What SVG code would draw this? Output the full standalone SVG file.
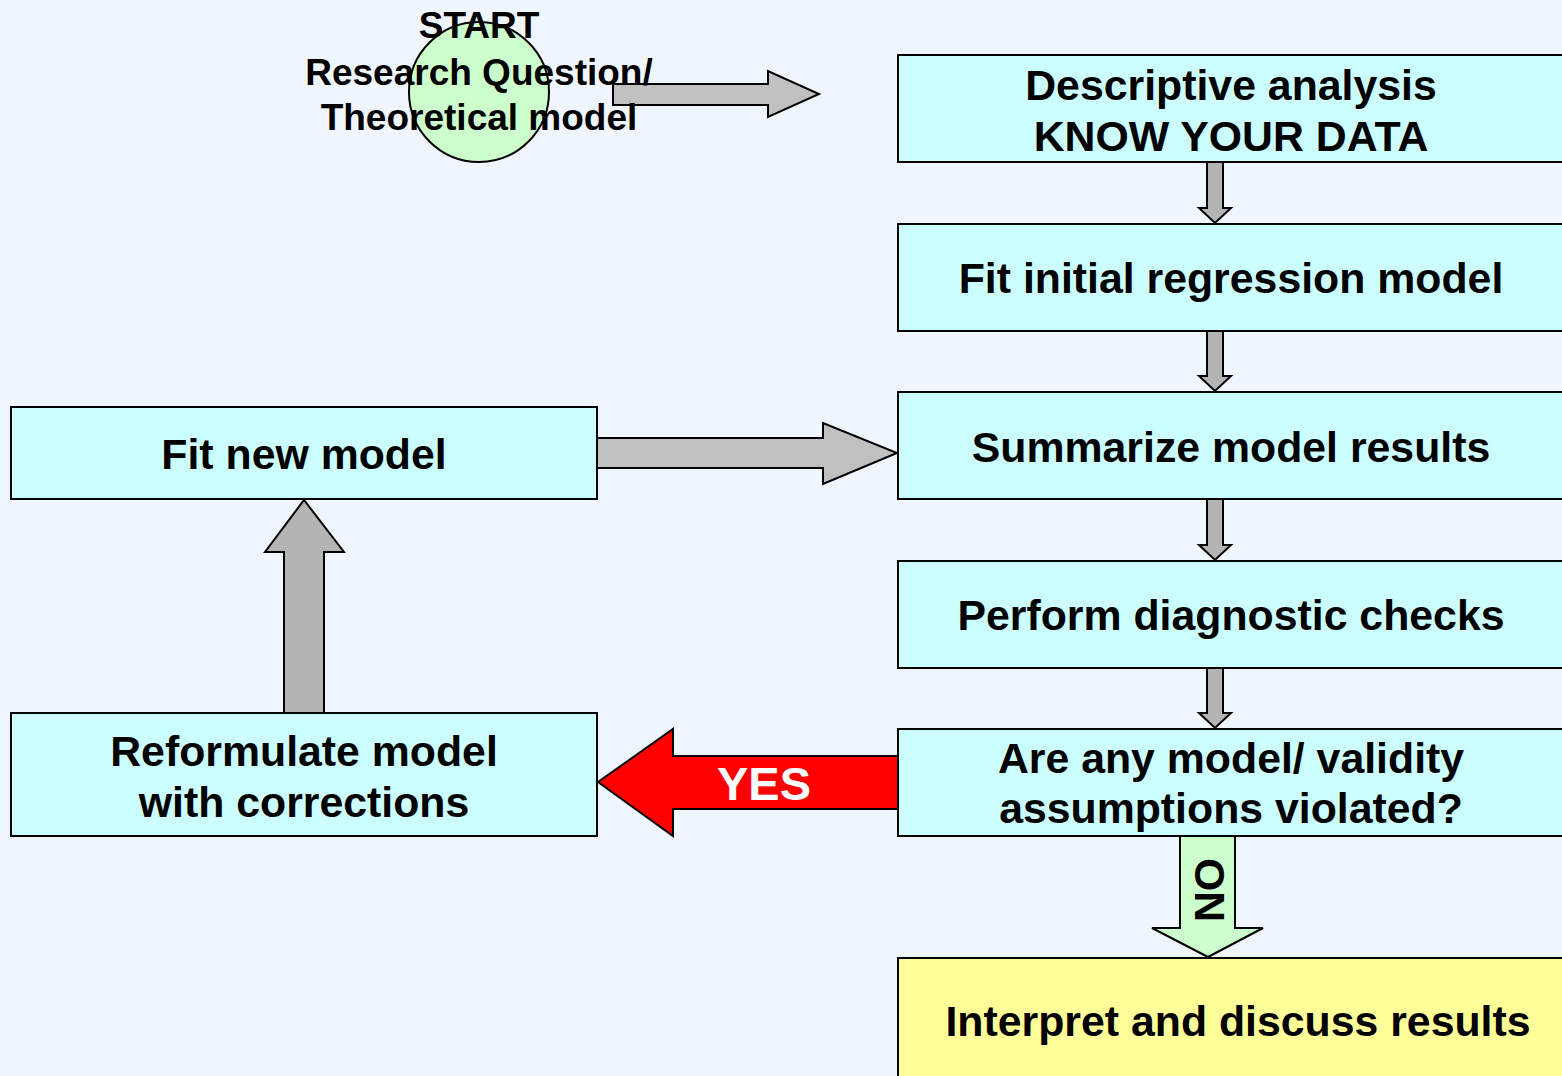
<svg xmlns="http://www.w3.org/2000/svg" width="1562" height="1076" viewBox="0 0 1562 1076">
<style>
.bg{fill:#EFF6FF}
.box{fill:#CCFFFF;stroke:#000;stroke-width:2}
.ybox{fill:#FFFF99;stroke:#000;stroke-width:2}
.t{font-family:"Liberation Sans",Arial,sans-serif;font-weight:bold;font-size:42.8px;fill:#000;text-anchor:middle}
.s{font-size:37px}
.arr{fill:#B4B4B4;stroke:#000;stroke-width:2;stroke-linejoin:miter}
.arr2{fill:#C0C0C0;stroke:#000;stroke-width:2}
.red{fill:#FF0000;stroke:#000;stroke-width:2}
.grn{fill:#CCFFCC;stroke:#000;stroke-width:2}
</style>
<rect class="bg" x="0" y="0" width="1562" height="1076"/>
<g id="connectors">
<polygon class="arr2" points="613,84 768,84 768,71 819,94 768,117 768,105 613,105"/>
<polygon class="arr" points="1207,162 1223,162 1223,208 1231,208 1215,223 1199,208 1207,208"/>
<polygon class="arr" points="1207,331 1223,331 1223,376 1231,376 1215,391 1199,376 1207,376"/>
<polygon class="arr" points="1207,499 1223,499 1223,545 1231,545 1215,560 1199,545 1207,545"/>
<polygon class="arr" points="1207,668 1223,668 1223,713 1231,713 1215,728 1199,713 1207,713"/>
<polygon class="arr2" points="597,438 823,438 823,423 897,453 823,484 823,468 597,468"/>
<polygon class="red" points="898,756 673,756 673,729 598,782 673,836 673,809 898,809"/>
<text class="t" x="764" y="800" style="fill:#fff;font-size:47px">YES</text>
<polygon class="grn" points="1180,836 1235,836 1235,928 1263,928 1208,957 1152,928 1180,928"/>
<text class="t" transform="translate(1224,890) rotate(-90)" x="0" y="0">NO</text>
<polygon class="arr" points="284,713 284,552 265,552 304,500 344,552 324,552 324,713"/>
</g>
<g id="start">
<circle class="grn" cx="479" cy="92" r="70"/>
<text class="t s" x="479" y="38">START</text>
<text class="t s" x="479" y="85">Research Question/</text>
<text class="t s" x="479" y="130">Theoretical model</text>
</g>
<g id="descriptive">
<rect class="box" x="898" y="55" width="680" height="107"/>
<text class="t" x="1231" y="100">Descriptive analysis</text>
<text class="t" x="1231" y="151">KNOW YOUR DATA</text>
</g>
<g id="fit-initial">
<rect class="box" x="898" y="224" width="680" height="107"/>
<text class="t" x="1231" y="293">Fit initial regression model</text>
</g>
<g id="summarize">
<rect class="box" x="898" y="392" width="680" height="107"/>
<text class="t" x="1231" y="462">Summarize model results</text>
</g>
<g id="diagnostic">
<rect class="box" x="898" y="561" width="680" height="107"/>
<text class="t" x="1231" y="630">Perform diagnostic checks</text>
</g>
<g id="violated">
<rect class="box" x="898" y="729" width="680" height="107"/>
<text class="t" x="1231" y="773">Are any model/ validity</text>
<text class="t" x="1231" y="823">assumptions violated?</text>
</g>
<g id="interpret">
<rect class="ybox" x="898" y="958" width="680" height="130"/>
<text class="t" x="1238" y="1036">Interpret and discuss results</text>
</g>
<g id="fit-new">
<rect class="box" x="11" y="407" width="586" height="92"/>
<text class="t" x="304" y="469">Fit new model</text>
</g>
<g id="reformulate">
<rect class="box" x="11" y="713" width="586" height="123"/>
<text class="t" x="304" y="766">Reformulate model</text>
<text class="t" x="304" y="817">with corrections</text>
</g>
</svg>
